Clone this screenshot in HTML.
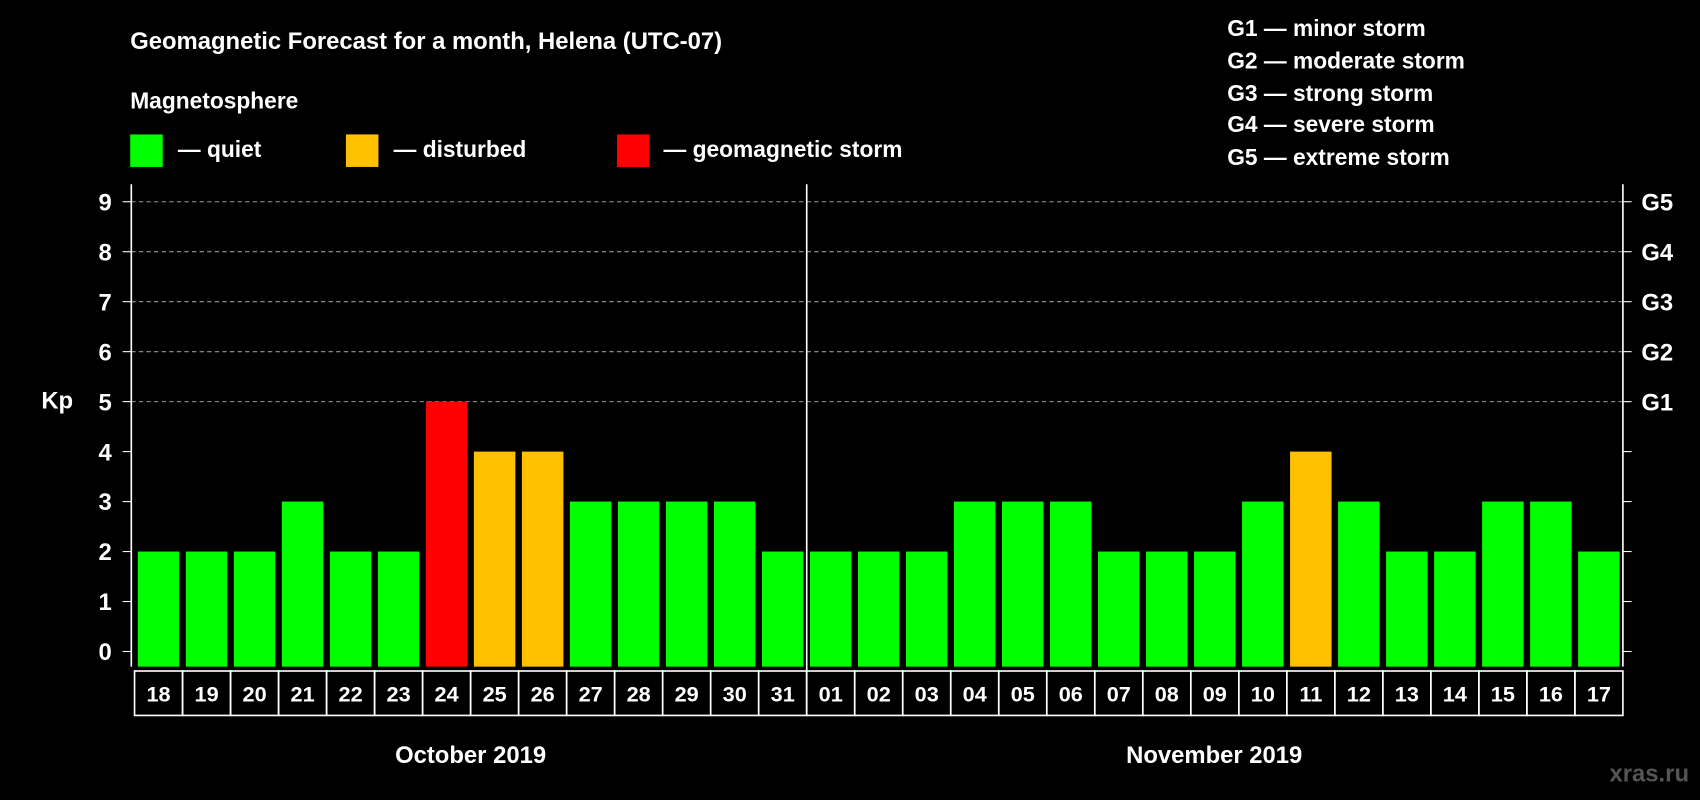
<!DOCTYPE html>
<html><head><meta charset="utf-8"><style>
html,body{margin:0;padding:0;background:#000;}
svg{display:block;}
text{font-family:"Liberation Sans",Arial,sans-serif;font-weight:bold;fill:#fff;}
</style></head><body>
<svg id="chart" width="1700" height="800" viewBox="0 0 1568 738" xmlns="http://www.w3.org/2000/svg">
<rect x="0" y="0" width="1568" height="738" fill="#000"/>
<text x="120" y="45" font-size="22">Geomagnetic Forecast for a month, Helena (UTC-07)</text>
<text x="120" y="100" font-size="21">Magnetosphere</text>
<g>
<rect x="120" y="124" width="30" height="30" fill="#00ff00"/><text x="164" y="145" font-size="21">— quiet</text></g>
<g>
<rect x="319" y="124" width="30" height="30" fill="#ffc000"/><text x="363" y="145" font-size="21">— disturbed</text></g>
<g>
<rect x="569" y="124" width="30" height="30" fill="#ff0000"/><text x="612" y="145" font-size="21">— geomagnetic storm</text></g>
<g font-size="21">
<text x="1132" y="33">G1 — minor storm</text>
<text x="1132" y="63">G2 — moderate storm</text>
<text x="1132" y="93">G3 — strong storm</text>
<text x="1132" y="122">G4 — severe storm</text>
<text x="1132" y="152">G5 — extreme storm</text>
</g>
<text x="38" y="377" font-size="22">Kp</text>
<g id="plot"></g>
<text x="434" y="704" font-size="22" text-anchor="middle">October 2019</text>
<text x="1120" y="704" font-size="22" text-anchor="middle">November 2019</text>
<text x="1558" y="721" font-size="22" text-anchor="end" style="fill:#555">xras.ru</text>
</svg>
<script>
const days = ["18","19","20","21","22","23","24","25","26","27","28","29","30","31","01","02","03","04","05","06","07","08","09","10","11","12","13","14","15","16","17"];
const kp = [2,2,2,3,2,2,5,4,4,3,3,3,3,2,2,2,2,3,3,3,2,2,2,3,4,3,2,2,3,3,2];
const yTicks = [0,1,2,3,4,5,6,7,8,9];
const gLabels = ["G1","G2","G3","G4","G5"];
const NS="http://www.w3.org/2000/svg";
const g=document.getElementById('plot');
const x0=124, slot=(1497-124)/days.length, yTop=170, yBot=615, xR=1497;
function y(v){return 601-v*46.1;}
function x(i){return x0+i*slot;}
function mk(t,a){const e=document.createElementNS(NS,t);for(const k in a)e.setAttribute(k,a[k]);g.appendChild(e);return e;}
function color(v){return v>=5?"#ff0000":v>=4?"#ffc000":"#00ff00";}
yTicks.forEach(v=>{
  if(v>=5){const l=mk('line',{x1:121,x2:xR,y1:y(v),y2:y(v),stroke:'#999','stroke-dasharray':'4,3','stroke-width':1});
  
  }
  const t1=mk('line',{x1:113,x2:121,y1:y(v),y2:y(v),stroke:'#fff','stroke-width':1});
  
  
  const t2=mk('line',{x1:xR,x2:xR+8,y1:y(v),y2:y(v),stroke:'#fff','stroke-width':1});
  
  
  const tx=mk('text',{x:103,y:y(v)+8,'font-size':22,'text-anchor':'end'});tx.textContent=v;
  
  
});
gLabels.forEach((s,i)=>{
  const t=mk('text',{x:1514,y:y(5+i)+8,'font-size':22});t.textContent=s;
  
  
});
kp.forEach((v,i)=>{
  const r=mk('rect',{x:x(i)+3,y:y(v),width:slot-6,height:y(0)-y(v)+14,fill:color(v)});
  
  
  const b=mk('rect',{x:x(i),y:619,width:slot,height:41,fill:'none',stroke:'#fff','stroke-width':1.5});
  
  
  const t=mk('text',{x:x(i)+slot/2,y:647,'font-size':20,'text-anchor':'middle'});t.textContent=days[i];
  
  
});
[121,xR].forEach((xx,i)=>{const l=mk('line',{x1:xx,x2:xx,y1:yTop,y2:yBot,stroke:'#fff','stroke-width':1.5});
  
  });
const d=mk('line',{x1:x(14),x2:x(14),y1:yTop,y2:660,stroke:'#fff','stroke-width':1.5});


</script>
</body></html>
